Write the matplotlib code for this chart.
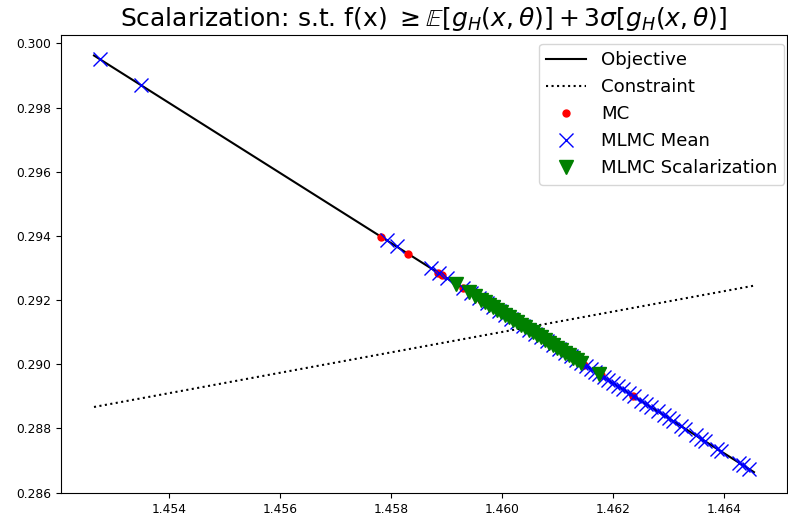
import matplotlib
matplotlib.use("Agg")
import matplotlib.pyplot as plt

obj_x = [1.45264, 1.46454]
obj_y = [0.29962, 0.28664]

con_x = [1.45264, 1.46454]
con_y = [0.28867, 0.29245]

mc_x = [1.45781, 1.45831, 1.45885, 1.45891, 1.45929, 1.45962, 1.45998, 1.46034,
        1.46079, 1.46115, 1.46147, 1.46178, 1.46236]
mc_y = [0.29398, 0.29344, 0.29285, 0.29278, 0.29237, 0.29201, 0.29162, 0.29122,
        0.29073, 0.29034, 0.28999, 0.28966, 0.28902]

mlmc_x = [1.452748, 1.453489, 1.457915, 1.458096, 1.458710, 1.458855, 1.458999,
          1.459288, 1.459433, 1.459577, 1.459722, 1.459830, 1.459939, 1.460047,
          1.460155, 1.460264, 1.460372, 1.460481, 1.460589, 1.460697, 1.460806,
          1.460914, 1.461023, 1.461131, 1.461239, 1.461330, 1.461420, 1.461510,
          1.461601, 1.461673, 1.461745, 1.461836, 1.461908, 1.461998, 1.462089,
          1.462179, 1.462288, 1.462378, 1.462504, 1.462595, 1.462685, 1.462811,
          1.462920, 1.463010, 1.463082, 1.463227, 1.463299, 1.463498, 1.463588,
          1.463660, 1.463877, 1.463950, 1.464275, 1.464347, 1.464455]
mlmc_y = [0.299502, 0.298694, 0.293869, 0.293671, 0.293002, 0.292844, 0.292687,
          0.292372, 0.292214, 0.292057, 0.291898, 0.291781, 0.291662, 0.291544,
          0.291426, 0.291308, 0.291190, 0.291071, 0.290953, 0.290835, 0.290717,
          0.290599, 0.290480, 0.290362, 0.290244, 0.290145, 0.290047, 0.289949,
          0.289850, 0.289771, 0.289693, 0.289594, 0.289515, 0.289417, 0.289318,
          0.289220, 0.289101, 0.289003, 0.288865, 0.288766, 0.288668, 0.288531,
          0.288412, 0.288314, 0.288235, 0.288077, 0.287998, 0.287782, 0.287683,
          0.287605, 0.287368, 0.287289, 0.286934, 0.286856, 0.286738]

scal_x = [1.459162, 1.459397, 1.459505, 1.459613, 1.459686, 1.459758, 1.459830,
          1.459903, 1.459975, 1.460047, 1.460119, 1.460192, 1.460264, 1.460336,
          1.460409, 1.460481, 1.460553, 1.460625, 1.460697, 1.460770, 1.460842,
          1.460914, 1.460987, 1.461059, 1.461131, 1.461203, 1.461276, 1.461348,
          1.461420, 1.461745]
scal_y = [0.292509, 0.292253, 0.292135, 0.292017, 0.291938, 0.291859, 0.291781,
          0.291701, 0.291623, 0.291544, 0.291466, 0.291386, 0.291308, 0.291229,
          0.291149, 0.291071, 0.290992, 0.290914, 0.290835, 0.290756, 0.290677,
          0.290599, 0.290519, 0.290441, 0.290362, 0.290284, 0.290204, 0.290126,
          0.290047, 0.289693]

fig = plt.figure(figsize=(7.88, 5.16), dpi=100)
ax = fig.add_axes([0.0774, 0.0446, 0.9213, 0.8882])

ax.plot(obj_x, obj_y, 'k-', label='Objective')
ax.plot(con_x, con_y, 'k:', label='Constraint')
ax.plot(mc_x, mc_y, 'o', color='red', markersize=5, linestyle='none', label='MC')
ax.plot(mlmc_x, mlmc_y, 'x', color='blue', markersize=10, linestyle='none', label='MLMC Mean')
ax.plot(scal_x, scal_y, 'v', color='green', markersize=10, linestyle='none', label='MLMC Scalarization')

ax.set_xticks([1.454, 1.456, 1.458, 1.460, 1.462, 1.464])
ax.set_yticks([0.286, 0.288, 0.290, 0.292, 0.294, 0.296, 0.298, 0.300])
ax.tick_params(labelsize=8.8)

ax.set_title(r'Scalarization: s.t. f(x) $\geq \mathbb{E}[g_H(x,\theta)] + 3\sigma[g_H(x,\theta)]$',
             fontsize=18)
ax.legend(loc='upper right', fontsize=13.1, handlelength=2.2,
          bbox_to_anchor=(1.009, 1.0))

fig.savefig('out.png', dpi=100)
